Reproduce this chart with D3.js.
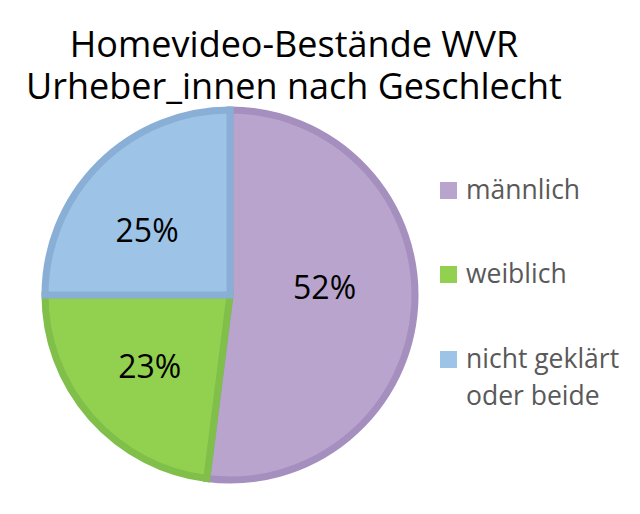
<!DOCTYPE html>
<html lang="de">
<head>
<meta charset="utf-8">
<title>Homevideo-Bestände WVR</title>
<script src="https://d3js.org/d3.v7.min.js"></script>
<style>
  body { margin: 0; background: #fff; }
  text { font-family: "Open Sans", Lato, sans-serif; }
</style>
</head>
<body>
<script>
// chart data
const categories = ["männlich", "weiblich", "nicht geklärt oder beide"];
const legendLines = [["männlich"], ["weiblich"], ["nicht geklärt", "oder beide"]];
const shares = [52, 23, 25];
const fills = ["#b8a4cd", "#92d050", "#9dc3e6"];
const strokes = ["#a48fbe", "#7fbf4a", "#8aafd6"];

const w = 640, h = 514;
const cx = 230, cy = 295, r = 185;

// small shifts so the percent labels sit where the original puts them
const labelNudge = [[-7, -14], [-4, 4], [-11, 7]];

const svg = d3.select("body").append("svg")
    .attr("width", w)
    .attr("height", h);

// title, two lines in one text element
const title = ["Homevideo-Bestände WVR", "Urheber_innen nach Geschlecht"];
svg.append("text")
    .attr("class", "title")
    .attr("x", 294)
    .attr("y", 57)
    .attr("text-anchor", "middle")
    .attr("font-size", 36)
    .attr("fill", "#000")
    .selectAll("tspan")
    .data(title)
    .enter()
    .append("tspan")
    .attr("x", 294)
    .attr("dy", (d, i) => i === 0 ? 0 : 42)
    .text(d => d);

const pie = d3.pie().sort(null).value(d => d);
const arcs = pie(shares);
const arc = d3.arc().innerRadius(0).outerRadius(r);
const labelArc = d3.arc().innerRadius(r * 0.55).outerRadius(r * 0.55);

const g = svg.append("g").attr("transform", `translate(${cx},${cy})`);

g.selectAll("path")
    .data(arcs)
    .enter()
    .append("path")
    .attr("d", arc)
    .attr("fill", (d, i) => fills[i])
    .attr("stroke", (d, i) => strokes[i])
    .attr("stroke-width", 7)
    .attr("stroke-linejoin", "miter");

g.selectAll("text.pct")
    .data(arcs)
    .enter()
    .append("text")
    .attr("class", "pct")
    .attr("transform", (d, i) => {
        const c = labelArc.centroid(d);
        return `translate(${c[0] + labelNudge[i][0]},${c[1] + labelNudge[i][1]})`;
    })
    .attr("text-anchor", "middle")
    .attr("dy", "0.36em")
    .attr("font-size", 32)
    .attr("fill", "#000")
    .text(d => d.data + "%");

// legend
const legendY = [190, 274, 359];
const leg = svg.selectAll("g.leg")
    .data(categories)
    .enter()
    .append("g")
    .attr("class", "leg")
    .attr("transform", (d, i) => `translate(440,${legendY[i]})`);

leg.append("rect")
    .attr("x", 0).attr("y", -8)
    .attr("width", 17).attr("height", 17)
    .attr("fill", (d, i) => fills[i]);

leg.append("text")
    .attr("x", 26).attr("y", 0)
    .attr("font-size", 26.5)
    .attr("fill", "#595959")
    .selectAll("tspan")
    .data((d, i) => legendLines[i])
    .enter()
    .append("tspan")
    .attr("x", 26)
    .attr("dy", (d, j) => j === 0 ? "0.35em" : "1.4em")
    .text(d => d);
</script>
</body>
</html>
